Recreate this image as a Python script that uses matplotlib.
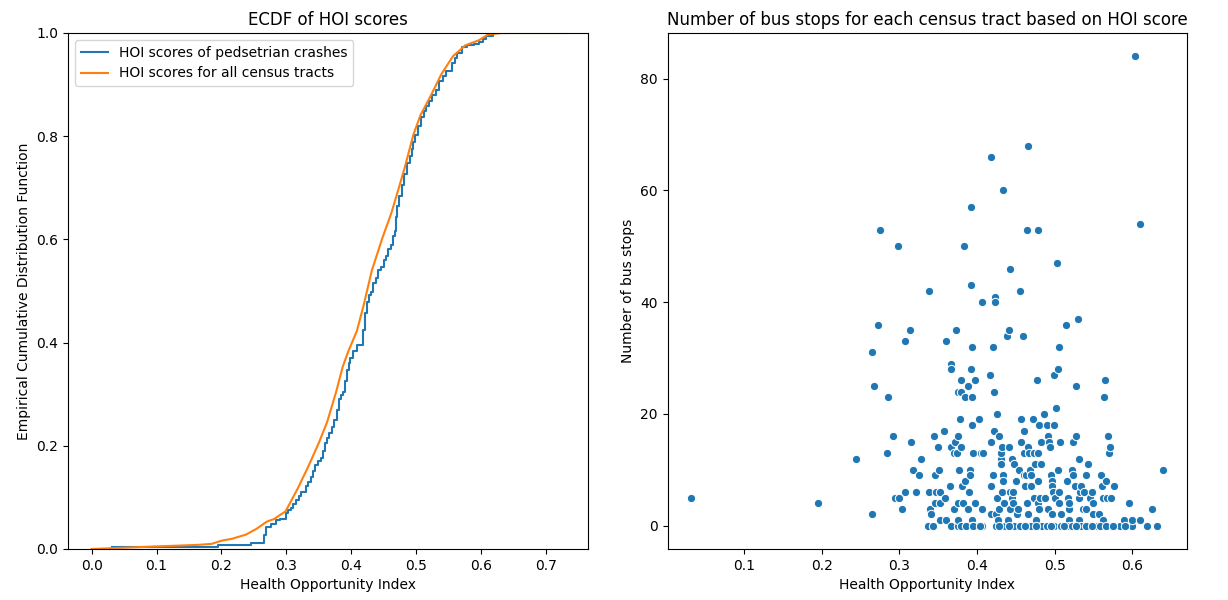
#!/usr/bin/env python3

import matplotlib
matplotlib.use('Agg')
import matplotlib.pyplot as plt
import numpy

# ECDF of HOI scores at locations of pedestrian crashes (stepped curve)
crash_hoi = [0.032, 0.195, 0.195, 0.245, 0.245, 0.265, 0.265, 0.269, 0.276,
             0.284, 0.291, 0.299, 0.303, 0.307, 0.311, 0.315, 0.319, 0.323,
             0.330, 0.334, 0.338, 0.342, 0.345, 0.349, 0.353, 0.357, 0.360,
             0.363, 0.366, 0.370, 0.374, 0.378, 0.381, 0.384, 0.387, 0.391,
             0.394, 0.396, 0.398, 0.403, 0.409, 0.416, 0.419, 0.422, 0.425,
             0.427, 0.430, 0.434, 0.438, 0.441, 0.446, 0.450, 0.454, 0.457,
             0.462, 0.465, 0.467, 0.469, 0.471, 0.474, 0.478, 0.482, 0.486,
             0.490, 0.494, 0.496, 0.499, 0.503, 0.507, 0.512, 0.516, 0.520,
             0.525, 0.531, 0.536, 0.541, 0.547, 0.555, 0.560, 0.563, 0.571,
             0.579, 0.590, 0.597, 0.603, 0.608, 0.619, 0.642]
crash_cdf = [0.004, 0.004, 0.008, 0.008, 0.012, 0.012, 0.028, 0.042, 0.049,
             0.056, 0.059, 0.070, 0.075, 0.080, 0.087, 0.094, 0.103, 0.111,
             0.122, 0.130, 0.139, 0.152, 0.163, 0.170, 0.177, 0.190, 0.205,
             0.215, 0.225, 0.237, 0.250, 0.270, 0.291, 0.298, 0.305, 0.325,
             0.346, 0.360, 0.371, 0.383, 0.395, 0.395, 0.425, 0.457, 0.478,
             0.492, 0.499, 0.516, 0.526, 0.540, 0.547, 0.561, 0.568, 0.582,
             0.589, 0.606, 0.616, 0.644, 0.665, 0.685, 0.706, 0.727, 0.748,
             0.762, 0.775, 0.789, 0.803, 0.820, 0.838, 0.848, 0.858, 0.869,
             0.879, 0.889, 0.907, 0.917, 0.927, 0.941, 0.951, 0.962, 0.972,
             0.976, 0.979, 0.983, 0.989, 0.995, 1.000, 1.000]

# ECDF of HOI scores over all census tracts
tract_hoi = [0.0, 0.100, 0.164, 0.185, 0.200, 0.217, 0.238, 0.254, 0.270,
             0.281, 0.299, 0.318, 0.334, 0.350, 0.363, 0.377, 0.387, 0.395,
             0.409, 0.419, 0.432, 0.448, 0.462, 0.475, 0.483, 0.496, 0.507,
             0.523, 0.539, 0.557, 0.576, 0.597, 0.611, 0.632, 0.728]
tract_cdf = [0.0, 0.005, 0.008, 0.010, 0.016, 0.020, 0.028, 0.039, 0.053,
             0.058, 0.073, 0.118, 0.160, 0.205, 0.246, 0.305, 0.353, 0.381,
             0.423, 0.471, 0.540, 0.602, 0.651, 0.706, 0.741, 0.803, 0.841,
             0.879, 0.920, 0.955, 0.976, 0.986, 0.997, 1.000, 1.000]

# HOI score and number of bus stops, one entry per census tract
tract_score = [
  0.032, 0.195, 0.244, 0.265, 0.265, 0.268, 0.272, 0.275, 0.284, 0.285,
  0.292, 0.295, 0.300, 0.298, 0.304, 0.308, 0.308, 0.314, 0.315, 0.318,
  0.321, 0.325, 0.328, 0.338, 0.338, 0.339, 0.337, 0.344, 0.341, 0.345,
  0.346, 0.346, 0.347, 0.350, 0.351, 0.352, 0.353, 0.352, 0.357, 0.359,
  0.360, 0.360, 0.365, 0.366, 0.366, 0.367, 0.367, 0.371, 0.371, 0.372,
  0.373, 0.374, 0.375, 0.375, 0.375, 0.375, 0.375, 0.377, 0.378, 0.379,
  0.380, 0.380, 0.381, 0.382, 0.383, 0.384, 0.385, 0.389, 0.389, 0.390,
  0.391, 0.391, 0.392, 0.392, 0.392, 0.393, 0.393, 0.394, 0.394, 0.395,
  0.393, 0.398, 0.398, 0.399, 0.403, 0.405, 0.406, 0.406, 0.407, 0.408,
  0.417, 0.418, 0.418, 0.418, 0.418, 0.421, 0.421, 0.422, 0.422, 0.423,
  0.423, 0.424, 0.425, 0.426, 0.426, 0.427, 0.428, 0.429, 0.431, 0.431,
  0.431, 0.432, 0.432, 0.433, 0.434, 0.434, 0.435, 0.436, 0.439, 0.440,
  0.441, 0.441, 0.442, 0.443, 0.443, 0.445, 0.445, 0.447, 0.447, 0.448,
  0.448, 0.450, 0.452, 0.453, 0.454, 0.456, 0.457, 0.457, 0.458, 0.459,
  0.460, 0.461, 0.461, 0.462, 0.463, 0.464, 0.465, 0.466, 0.466, 0.466,
  0.467, 0.468, 0.470, 0.470, 0.470, 0.472, 0.473, 0.474, 0.475, 0.476,
  0.477, 0.478, 0.479, 0.479, 0.479, 0.480, 0.480, 0.481, 0.482, 0.483,
  0.484, 0.486, 0.488, 0.490, 0.491, 0.492, 0.493, 0.494, 0.495, 0.496,
  0.497, 0.497, 0.498, 0.499, 0.499, 0.499, 0.500, 0.502, 0.503, 0.504,
  0.504, 0.505, 0.505, 0.506, 0.507, 0.508, 0.508, 0.515, 0.516, 0.517,
  0.518, 0.518, 0.519, 0.519, 0.523, 0.524, 0.524, 0.526, 0.527, 0.528,
  0.530, 0.531, 0.532, 0.532, 0.533, 0.534, 0.534, 0.537, 0.538, 0.540,
  0.541, 0.543, 0.544, 0.546, 0.548, 0.549, 0.550, 0.555, 0.557, 0.560,
  0.561, 0.562, 0.562, 0.564, 0.565, 0.566, 0.567, 0.569, 0.570, 0.571,
  0.571, 0.573, 0.576, 0.584, 0.589, 0.596, 0.599, 0.600, 0.603, 0.610,
  0.610, 0.619, 0.625, 0.632, 0.640,
  0.380, 0.386, 0.395, 0.404, 0.428, 0.441, 0.455, 0.462, 0.476, 0.490,
  0.495, 0.512, 0.523, 0.527, 0.540, 0.548, 0.558, 0.566, 0.575, 0.590]
bus_stops = [
  5, 4, 12, 2, 31, 25, 36, 53, 13, 23,
  16, 5, 5, 50, 3, 33, 6, 35, 15, 10,
  6, 9, 12, 42, 6, 3, 0, 0, 2, 16,
  9, 4, 6, 14, 10, 6, 4, 1, 17, 5,
  33, 1, 7, 14, 0, 29, 28, 13, 3, 15,
  35, 13, 0, 4, 16, 24, 1, 10, 19, 14,
  24, 26, 7, 4, 50, 23, 8, 3, 25, 6,
  10, 9, 57, 43, 28, 1, 32, 18, 23, 13,
  0, 26, 4, 0, 19, 13, 40, 3, 0, 13,
  27, 2, 66, 15, 7, 32, 9, 24, 17, 41,
  40, 0, 2, 20, 5, 1, 16, 3, 12, 11,
  13, 6, 14, 9, 8, 60, 4, 0, 34, 1,
  14, 35, 46, 6, 3, 12, 5, 6, 4, 11,
  0, 8, 2, 3, 10, 42, 15, 19, 0, 34,
  9, 17, 13, 7, 9, 53, 4, 68, 14, 2,
  13, 10, 0, 9, 7, 19, 5, 13, 11, 1,
  26, 8, 53, 4, 13, 3, 18, 5, 11, 15,
  0, 20, 5, 18, 16, 3, 15, 14, 9, 8,
  2, 7, 6, 18, 27, 0, 5, 21, 47, 28,
  10, 6, 32, 4, 15, 2, 0, 36, 8, 5,
  3, 1, 4, 0, 10, 15, 9, 7, 25, 16,
  37, 5, 12, 1, 6, 7, 0, 3, 6, 9,
  3, 11, 0, 5, 6, 2, 4, 0, 2, 9,
  7, 5, 1, 23, 26, 8, 5, 16, 13, 14,
  0, 5, 7, 0, 1, 4, 0, 1, 84, 1,
  54, 0, 3, 0, 10,
  0, 0, 0, 0, 0, 0, 0, 0, 0, 0,
  0, 0, 0, 0, 0, 0, 0, 0, 0, 0]


def main():
  fig, (ax1, ax2) = plt.subplots(1, 2, figsize=(12.28, 6), dpi=100)
  fig.subplots_adjust(left=0.0554, right=0.9666, bottom=0.085, top=0.945,
                      wspace=0.154)

  # left: the two ECDFs
  ax1.plot(crash_hoi, crash_cdf, color='#1f77b4', lw=1.5,
           drawstyle='steps-post', label='HOI scores of pedsetrian crashes')
  ax1.plot(tract_hoi, tract_cdf, color='#ff7f0e', lw=1.5,
           label='HOI scores for all census tracts')
  ax1.set_ylim(0, 1)
  ax1.set_xticks(numpy.arange(0, 0.71, 0.1))
  ax1.set_title('ECDF of HOI scores')
  ax1.set_xlabel('Health Opportunity Index')
  ax1.set_ylabel('Empirical Cumulative Distribution Function')
  ax1.legend(loc='upper left')

  # right: bus stops per tract against its HOI score
  ax2.scatter(tract_score, bus_stops, s=36, color='#1f77b4',
              edgecolors='white', linewidths=0.75)
  ax2.set_title('Number of bus stops for each census tract based on HOI score')
  ax2.set_xlabel('Health Opportunity Index')
  ax2.set_ylabel('Number of bus stops')

  fig.savefig('out.png')


if __name__ == '__main__':
  main()
